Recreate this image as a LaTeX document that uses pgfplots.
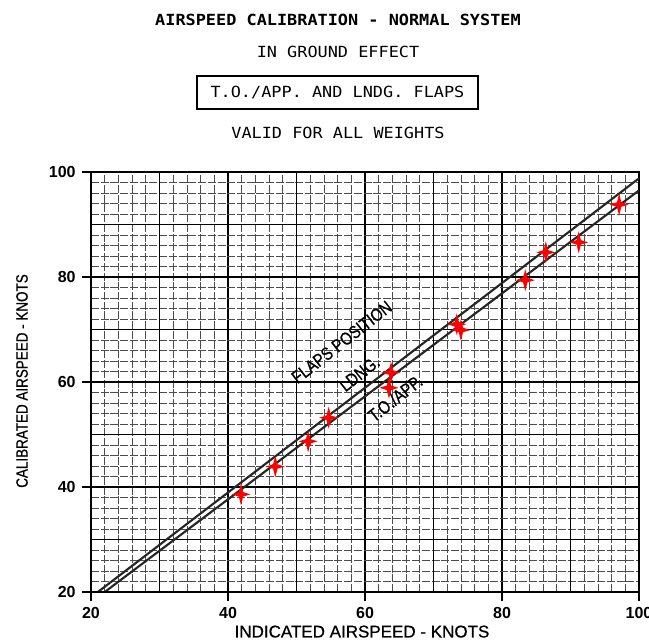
\documentclass[border=0pt]{standalone}
\usepackage{fontspec}
\setmainfont{Liberation Sans}
\newfontfamily\titlefont[FakeStretch=1.1]{DejaVu Sans Mono}
\newfontfamily\condsans[FakeStretch=0.82, FakeBold=0.6]{Liberation Sans}
\newfontfamily\labsans[FakeBold=0.6]{Liberation Sans}
\usepackage{pgfplots}
\pgfplotsset{compat=1.18}

\pgfdeclareplotmark{fourstar}{%
  \pgfpathmoveto{\pgfqpoint{0pt}{1.8\pgfplotmarksize}}%
  \pgfpathlineto{\pgfqpoint{0.36\pgfplotmarksize}{0.36\pgfplotmarksize}}%
  \pgfpathlineto{\pgfqpoint{1.55\pgfplotmarksize}{0pt}}%
  \pgfpathlineto{\pgfqpoint{0.36\pgfplotmarksize}{-0.36\pgfplotmarksize}}%
  \pgfpathlineto{\pgfqpoint{0pt}{-1.8\pgfplotmarksize}}%
  \pgfpathlineto{\pgfqpoint{-0.36\pgfplotmarksize}{-0.36\pgfplotmarksize}}%
  \pgfpathlineto{\pgfqpoint{-1.55\pgfplotmarksize}{0pt}}%
  \pgfpathlineto{\pgfqpoint{-0.36\pgfplotmarksize}{0.36\pgfplotmarksize}}%
  \pgfpathclose
  \pgfusepathqfill}

\begin{document}
\begin{tikzpicture}
\path[use as bounding box, fill=white] (0,0) rectangle (486.75pt,480pt);

% titles
\node[font=\titlefont\fontsize{11.5}{13}\selectfont\bfseries] at (253.5pt,465pt) {AIRSPEED CALIBRATION - NORMAL SYSTEM};
\node[font=\titlefont\fontsize{11.5}{13}\selectfont] at (253.5pt,441pt) {IN GROUND EFFECT};
\node[draw, line width=1.1pt, minimum width=210.75pt, minimum height=24.75pt, inner sep=0pt,
      font=\titlefont\fontsize{11.5}{13}\selectfont] at (253.1pt,410.6pt) {T.O./APP. AND LNDG. FLAPS};
\node[font=\titlefont\fontsize{11.5}{13}\selectfont] at (253.5pt,380.25pt) {VALID FOR ALL WEIGHTS};

\begin{axis}[
  at={(68.25pt,36pt)}, anchor=south west,
  scale only axis, width=411pt, height=315pt,
  xmin=20, xmax=100, ymin=20, ymax=100,
  xtick={20,40,60,80,100}, ytick={20,40,60,80,100},
  minor xtick={22,24,...,98}, minor ytick={22,24,...,98},
  extra x ticks={30,50,70,90}, extra y ticks={30,50,70,90},
  extra tick style={major tick length=0pt, grid=major},
  extra x tick labels={}, extra y tick labels={},
  grid=both,
  major grid style={black, line width=0.95pt},
  minor grid style={black!70, line width=0.6pt, dash pattern=on 6pt off 1.3pt},
  minor tick length=0pt,
  major tick length=7pt,
  tick align=outside, tick pos=left,
  tick style={black, line width=1.2pt},
  axis line style={black, line width=1pt},
  /pgf/number format/assume math mode=true,
  tick label style={font=\fontsize{12}{14}\selectfont\bfseries},
  xticklabel style={yshift=-1pt},
  yticklabel style={xshift=-1pt},
  clip=true,
]
\addplot[black!85, line width=1.6pt] coordinates {(21.0,20) (100,98.8)};
\addplot[black!85, line width=1.6pt] coordinates {(22.0,20) (100,96.5)};
\addplot[only marks, mark=fourstar, mark size=4.6pt, color=red] coordinates {
  (41.9,38.6) (46.9,43.9) (51.7,48.7) (54.7,53.2) (63.8,61.8) (63.5,58.9)
  (73.4,71.0) (74.0,69.9) (83.4,79.4) (86.4,84.7) (91.2,86.6) (97.1,93.8)
};
\draw[black, line width=1.6pt] (rel axis cs:0,1) -- (rel axis cs:0,0) -- (rel axis cs:1,0);
\node[rotate=38, font=\condsans\fontsize{13.5}{15}\selectfont] at (axis cs:56.6,67.6) {FLAPS POSITION};
\node[rotate=38, font=\condsans\fontsize{13.5}{15}\selectfont] at (axis cs:59.2,61.6) {LDNG.};
\node[rotate=38, font=\condsans\fontsize{13.5}{15}\selectfont] at (axis cs:64.4,56.9) {T.O./APP.};
\end{axis}

\node[font=\labsans\fontsize{12.75}{14}\selectfont] at (271.5pt,6.3pt) {INDICATED AIRSPEED - KNOTS};
\node[rotate=90, font=\condsans\fontsize{12.3}{14}\selectfont] at (16.5pt,194.25pt) {CALIBRATED AIRSPEED - KNOTS};
\end{tikzpicture}
\end{document}
